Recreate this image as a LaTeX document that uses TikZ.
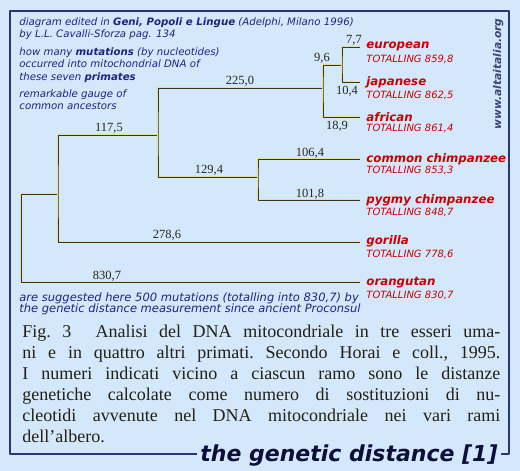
\documentclass[tikz,border=0pt]{standalone}
\usepackage{fontspec}
\setmainfont{Liberation Serif}
\setsansfont{DejaVu Sans}
\definecolor{bgblue}{RGB}{212,232,251}
\definecolor{framenavy}{RGB}{40,52,120}
\definecolor{inknavy}{RGB}{28,36,128}
\definecolor{namered}{RGB}{204,0,0}
\definecolor{branchink}{RGB}{58,54,34}
\definecolor{glow}{RGB}{228,222,150}
\definecolor{siteink}{RGB}{60,66,120}
\definecolor{titleink}{RGB}{12,14,60}
\begin{document}
\begin{tikzpicture}[x=1pt,y=-1pt,thick,line join=round,
  branch/.style={draw=branchink,line width=1pt,preaction={draw=glow,line width=2.4pt}},
  dist/.style={inner sep=0pt,text=branchink!70!black,font=\fontsize{12.5}{13}\selectfont},
  species/.style={anchor=base west,inner sep=0pt,text=namered,
    font=\sffamily\bfseries\itshape\fontsize{11.8}{12}\selectfont},
  total/.style={anchor=base west,inner sep=0pt,text=namered,
    font=\sffamily\itshape\fontsize{10}{12}\selectfont},
  note/.style={anchor=north west,inner sep=0pt,align=left,text=inknavy,
    font=\sffamily\itshape\fontsize{10.2}{12.6}\selectfont}]
  \fill[bgblue] (0,0) rectangle (520,471);
  \useasboundingbox (0,0) rectangle (520,471);
  \draw[framenavy,line width=1.1pt] (10,11) rectangle (509,454);

  \node (src) [note] at (19,17.2) {diagram edited in \textbf{Geni, Popoli e Lingue} (Adelphi, Milano 1996)\\
    by L.L. Cavalli-Sforza pag. 134};
  \node (how) [note] at (19,47.2) {how many \textbf{mutations} (by nucleotides)\\
    occurred into mitochondrial DNA of\\ these seven \textbf{primates}};
  \node (gauge) [note] at (19,89.2) {remarkable gauge of\\ common ancestors};
  \node (sugg) [note,font=\sffamily\itshape\fontsize{11.5}{11.5}\selectfont] at (19,292.3)
    {are suggested here 500 mutations (totalling into 830,7) by\\
    the genetic distance measurement since ancient Proconsul};
  \node (site) [rotate=90,anchor=base west,inner sep=0pt,text=siteink,
    font=\sffamily\bfseries\itshape\fontsize{10.7}{12}\selectfont] at (501,130) {www.altaitalia.org};

  \coordinate (root) at (21,194);
  \coordinate (hg) at (58,194);
  \coordinate (hc) at (158,135);
  \coordinate (hu) at (323,88);
  \coordinate (ej) at (342,65);
  \coordinate (ch) at (258,177);
  \coordinate (euE) at (360,47);
  \coordinate (jaE) at (360,82);
  \coordinate (afE) at (360,117);
  \coordinate (ccE) at (360,159);
  \coordinate (pcE) at (360,200);
  \coordinate (goE) at (360,242);
  \coordinate (orE) at (360,282);
  \draw[branch] (orE) -| (root) -- (hg);
  \draw[branch] (goE) -| (hg) |- (hc);
  \draw[branch] (hu) -| (hc) |- (ch);
  \draw[branch] (ccE) -| (ch) |- (pcE);
  \draw[branch] (ej) -| (hu) |- (afE);
  \draw[branch] (euE) -| (ej) |- (jaE);

  \node (d225) [dist] at (240,81) {225,0};
  \node (d117) [dist] at (109,128) {117,5};
  \node (d129) [dist] at (209,170) {129,4};
  \node (d96) [dist] at (322,58) {9,6};
  \node (d77) [dist] at (354,40) {7,7};
  \node (d104) [dist] at (347,91) {10,4};
  \node (d189) [dist] at (337,126) {18,9};
  \node (d106) [dist] at (310,153) {106,4};
  \node (d101) [dist] at (310,194) {101,8};
  \node (d278) [dist] at (167,235) {278,6};
  \node (d830) [dist] at (107,276) {830,7};

  \node (eu) [species] at (366,48) {european};
  \node (euT) [total] at (366,62) {TOTALLING 859,8};
  \node (ja) [species] at (366,85) {japanese};
  \node (jaT) [total] at (366,98) {TOTALLING 862,5};
  \node (af) [species] at (366,121) {african};
  \node (afT) [total] at (366,131) {TOTALLING 861,4};
  \node (cc) [species] at (366,162) {common chimpanzee};
  \node (ccT) [total] at (366,173) {TOTALLING 853,3};
  \node (pc) [species] at (366,203) {pygmy chimpanzee};
  \node (pcT) [total] at (366,215) {TOTALLING 848,7};
  \node (go) [species] at (366,244) {gorilla};
  \node (goT) [total] at (366,257) {TOTALLING 778,6};
  \node (or) [species] at (366,285) {orangutan};
  \node (orT) [total] at (366,298) {TOTALLING 830,7};

  \node (fig) [anchor=north west,inner sep=0pt,text width=478pt,align=justify,
    text=branchink!60!black,font=\fontsize{18}{21}\selectfont] at (22,325)
    {\frenchspacing Fig.~3\hspace{0.7em} Analisi del DNA mitocondriale in tre esseri uma-\linebreak
    ni e in quattro altri primati. Secondo Horai e coll., 1995.\linebreak
    I numeri indicati vicino a ciascun ramo sono le distanze\linebreak
    genetiche calcolate come numero di sostituzioni di nu-\linebreak
    cleotidi avvenute nel DNA mitocondriale nei vari rami\linebreak
    dell’albero.};
  \node (title) [anchor=base east,fill=bgblue,inner xsep=3pt,inner ysep=1pt,text=titleink,
    font=\sffamily\bfseries\itshape\fontsize{22}{24}\selectfont] at (501,461)
    {the genetic distance [1]};
\end{tikzpicture}
\end{document}
